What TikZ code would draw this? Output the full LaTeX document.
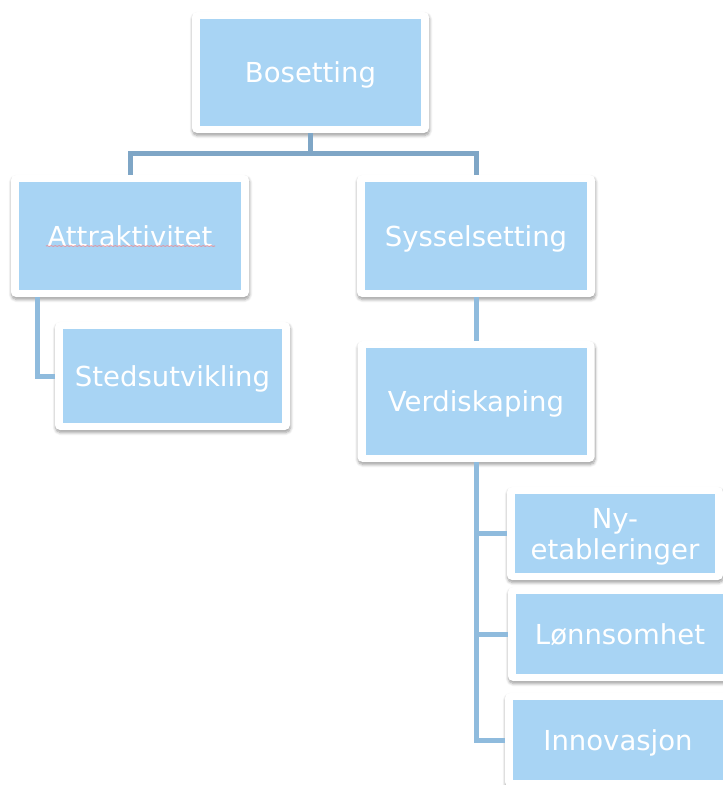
\documentclass[tikz,border=0pt]{standalone}
\usepackage{fontspec}
\setmainfont{DejaVu Sans}
\usepackage{tikz}
\usetikzlibrary{positioning,shadows.blur,decorations.pathmorphing}

\definecolor{boxblue}{HTML}{A8D4F4}
\definecolor{linkdark}{HTML}{7FA6C6}
\definecolor{linkblue}{HTML}{8FBBDD}

\tikzset{
  box/.style={fill=white, rounded corners=5pt, inner sep=0pt,
    minimum width=237pt, minimum height=121pt,
    blur shadow={shadow xshift=0.5pt, shadow yshift=-2.5pt,
      shadow blur radius=3pt, shadow blur steps=6, shadow opacity=40},
    path picture={\fill[boxblue, sharp corners]
      ([shift={(8pt,7pt)}]path picture bounding box.south west) rectangle
      ([shift={(-8pt,-7pt)}]path picture bounding box.north east);},
    text=white, font=\fontsize{27.5}{31}\selectfont, text depth=0pt},
  link/.style={draw=linkblue, line width=5pt},
}

\begin{document}
\begin{tikzpicture}[x=1pt, y=-1pt, on grid]
   \useasboundingbox (0,0) rectangle (723,785);
   \clip (0,0) rectangle (723,785);
   \node[box] (bos) at (310.5,72.5) {Bosetting};
   \node[box, minimum width=238pt, minimum height=122pt] (attr) [below left=163.5pt and 180.5pt of bos] {Attraktivitet};
   \node[box, minimum width=238pt, minimum height=122pt] (syss) [right=346pt of attr] {Sysselsetting};
   \node[box, minimum width=235pt, minimum height=108pt] (sted) [below right=140pt and 42.5pt of attr] {Stedsutvikling};
   \node[box] (verd) [below=165.5pt of syss] {Verdiskaping};
   \node[box, minimum width=216pt, minimum height=93pt, align=center] (nye) [below right=132pt and 139pt of verd] {Ny-\\etableringer};
   \node[box, minimum width=224pt, minimum height=94pt] (lonn) [below right=100.5pt and 5pt of nye] {Lønnsomhet};
   \node[box, minimum width=226pt, minimum height=94pt] (inno) [below left=106pt and 2pt of lonn] {Innovasjon};
   % spell check mark
   \draw[red!55, line width=0.6pt, decorate, decoration={snake, amplitude=0.3pt, segment length=4pt}]
     ([shift={(-84pt,-10pt)}]attr.center) -- ([shift={(85pt,-10pt)}]attr.center);
   % connectors
   \begin{scope}[link]
    \draw[linkdark] (bos.south) -- ++(0,20) -| (attr.north);
    \draw[linkdark] (bos.south) -- ++(0,20) -| (syss.north);
    \draw ([xshift=27pt]attr.south west) |- (sted.west);
    \draw (syss.south) -- (verd.north);
    \draw (verd.south) |- (nye.west);
    \draw (verd.south) |- (lonn.west);
    \draw (verd.south) |- (inno.west);
   \end{scope}
\end{tikzpicture}
\end{document}
